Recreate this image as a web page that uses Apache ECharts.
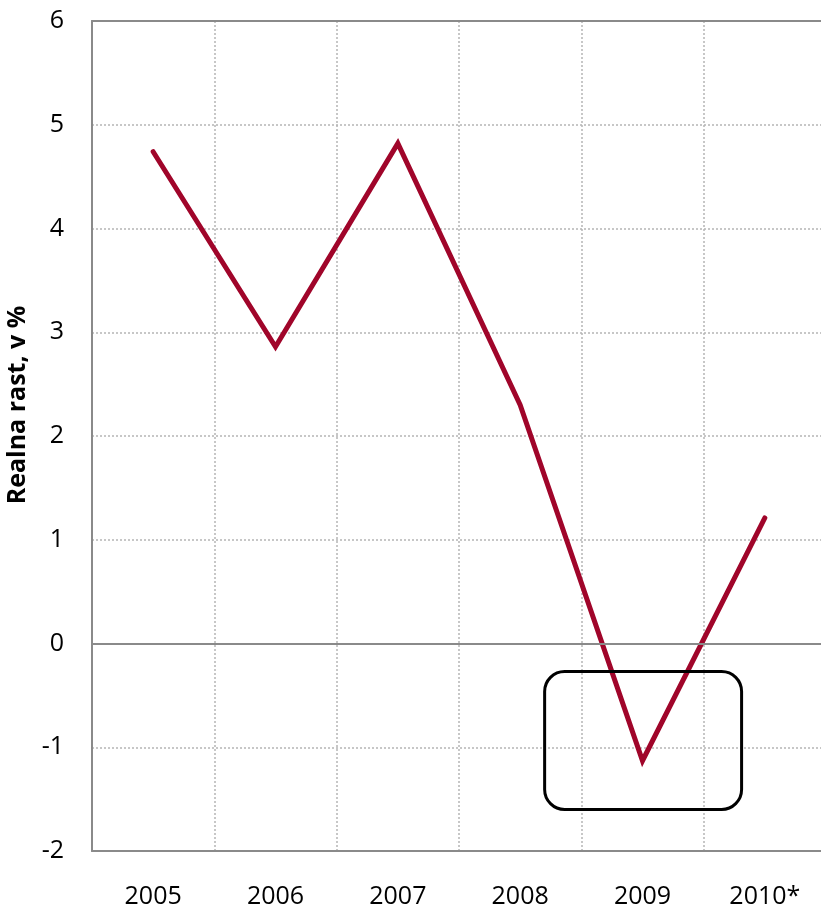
<!DOCTYPE html>
<html>
<head>
<meta charset="utf-8">
<script src="https://cdn.jsdelivr.net/npm/echarts@6/dist/echarts.min.js"></script>
<style>
  html, body { margin: 0; padding: 0; background: #fff; }
  #chart { width: 821px; height: 909px; }
</style>
</head>
<body>
<div id="chart"></div>
<script>
  const years = ['2005', '2006', '2007', '2008', '2009', '2010*'];
  const growth = [4.74, 2.86, 4.82, 2.30, -1.13, 1.21];
  const yTicks = [-2, -1, 0, 1, 2, 3, 4, 5, 6];
  // highlight box around 2009, in data units (category fraction, value)
  const boxX = [3.2, 4.81];
  const boxY = [-0.27, -1.6];

  const font = '"Open Sans", sans-serif';
  const axisColor = '#8a8a8a';
  const gridLine = {
    show: true, showMinLine: false, showMaxLine: false,
    lineStyle: { color: '#b5b5b5', type: [2, 2], width: 1.5 }
  };
  const chart = echarts.init(document.getElementById('chart'));

  chart.setOption({
    animation: false,
    grid: {
      left: 92, top: 21, bottom: 58, width: 734,
      outerBoundsMode: 'none',
      containLabel: false
    },
    xAxis: [{
      type: 'category',
      data: years,
      boundaryGap: true,
      axisLine: { onZero: false, lineStyle: { color: axisColor, width: 2 } },
      axisTick: { show: false },
      axisLabel: { color: '#000', fontFamily: font, fontSize: 25, margin: 33 },
      splitLine: gridLine
    }, {
      // top frame line only
      type: 'category',
      data: years,
      position: 'top',
      axisLine: { onZero: false, lineStyle: { color: axisColor, width: 2 } },
      axisTick: { show: false },
      axisLabel: { show: false },
      splitLine: { show: false }
    }],
    yAxis: {
      type: 'value',
      min: yTicks[0], max: yTicks[yTicks.length - 1], interval: 1,
      name: 'Realna rast, v %',
      nameLocation: 'middle',
      nameGap: 60,
      nameTextStyle: { color: '#000', fontFamily: font, fontSize: 25, fontWeight: 'bold', padding: [0, 0, 0, 62] },
      axisLine: { show: true, onZero: false, lineStyle: { color: axisColor, width: 2 } },
      axisTick: { show: false },
      axisLabel: { color: '#000', fontFamily: font, fontSize: 25, margin: 28 },
      splitLine: gridLine
    },
    series: [{
      type: 'line',
      data: growth,
      symbol: 'none',
      lineStyle: { color: '#a0052a', width: 5, cap: 'round', join: 'miter' },
      markLine: {
        silent: true,
        symbol: 'none',
        label: { show: false },
        lineStyle: { color: axisColor, type: 'solid', width: 2 },
        data: [{ yAxis: 0 }]
      },
      z: 3
    }]
  });

  // rounded highlight box placed through the axes
  const p3 = chart.convertToPixel({ xAxisIndex: 0 }, 3);
  const p4 = chart.convertToPixel({ xAxisIndex: 0 }, 4);
  const step = p4 - p3;
  const x0 = p3 + (boxX[0] - 3) * step;
  const x1 = p3 + (boxX[1] - 3) * step;
  const y0 = chart.convertToPixel({ yAxisIndex: 0 }, boxY[0]);
  const y1 = chart.convertToPixel({ yAxisIndex: 0 }, boxY[1]);

  chart.setOption({
    graphic: [{
      type: 'rect',
      shape: { x: x0, y: y0, width: x1 - x0, height: y1 - y0, r: 20 },
      style: { fill: 'none', stroke: '#000', lineWidth: 3 },
      z: 10
    }]
  });
</script>
</body>
</html>
